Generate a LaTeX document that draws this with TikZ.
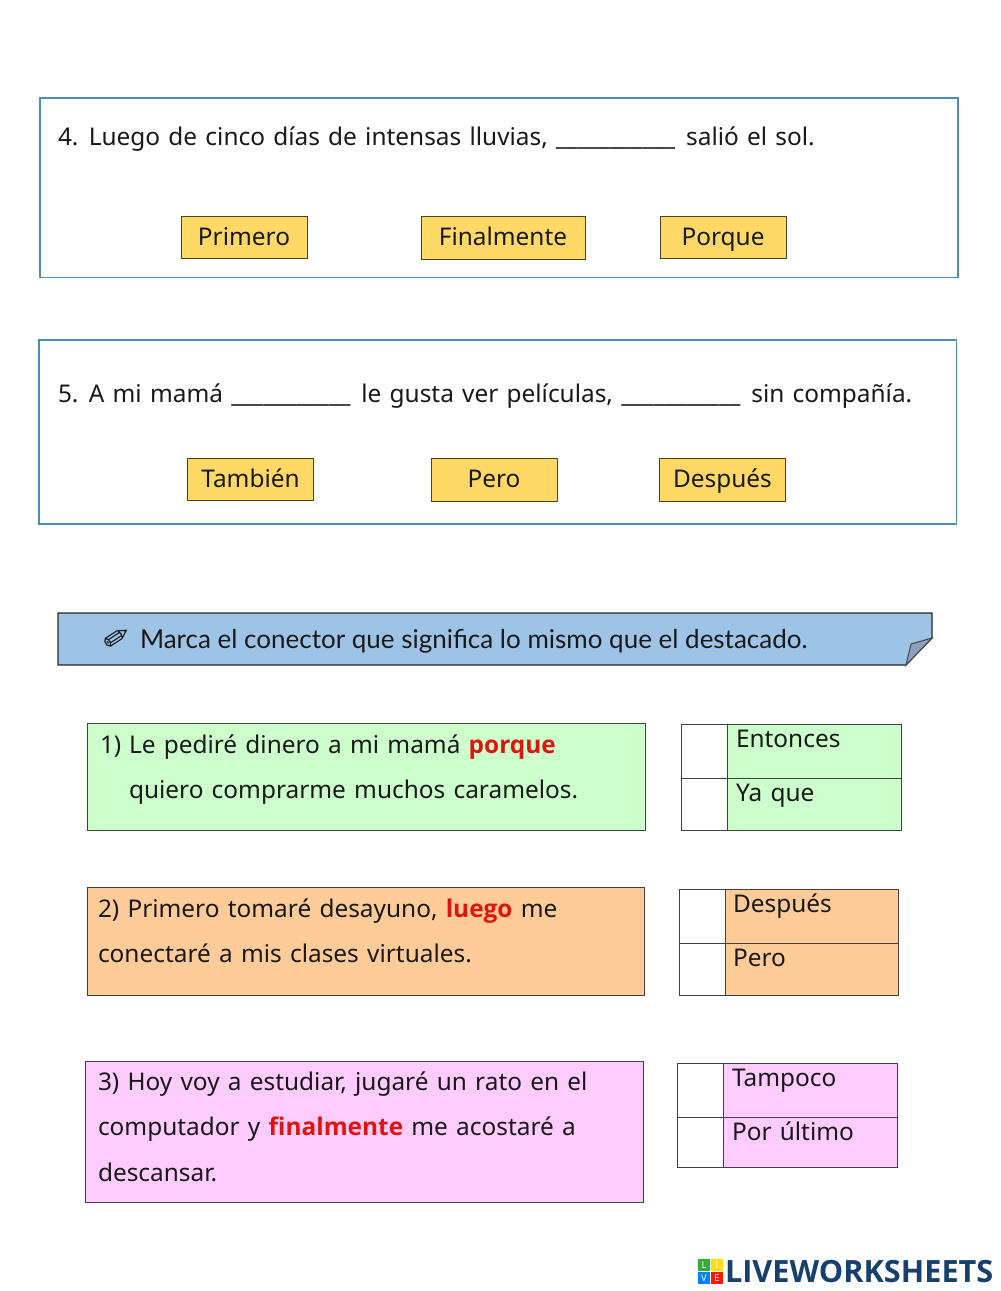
\documentclass[tikz,border=0pt]{standalone}
\usepackage{fontspec}
\usepackage{tikz}
\usetikzlibrary{positioning}
\setmainfont{Noto Sans}[WordSpace=1.3]
\newfontfamily\bannerfont{Lato}
\newfontfamily\logofont{Open Sans}
\newfontfamily\iconfont{DejaVu Sans}
\definecolor{framecol}{HTML}{4F8AB8}
\definecolor{btncol}{HTML}{FFD966}
\definecolor{bannercol}{HTML}{9DC3E6}
\definecolor{foldcol}{HTML}{8AA0BC}
\definecolor{greencol}{HTML}{CCFFCC}
\definecolor{orangecol}{HTML}{FFCC99}
\definecolor{pinkcol}{HTML}{FFCCFF}
\definecolor{conred}{HTML}{E0140F}
\definecolor{logocol}{HTML}{17406D}
\newcommand{\destacado}[1]{\textcolor{conred}{\logofont\bfseries #1}}
\newcommand{\blank}{\_\_\_\_\_\_\_\_\_\_\_\kern2pt}

\begin{document}
\begin{tikzpicture}[x=0.75pt, y=-0.75pt,
    every node/.style={font=\fontsize{18.3}{22}\selectfont, text=black!90, outer sep=0pt},
    frame/.style={draw=framecol, line width=0.8pt, fill=white, anchor=north west, inner sep=0pt},
    btn/.style={draw=black!70!btncol, line width=0.6pt, fill=btncol, minimum height=32pt, text height=14pt, text depth=2.5pt, inner sep=0pt},
    txt/.style={anchor=base west, inner sep=0pt},
    box/.style={draw=black!75, line width=0.6pt, anchor=north west, inner sep=0pt},
    tick/.style={box, fill=white, minimum width=34.5pt, minimum height=40.5pt},
    ans/.style={box, minimum width=130.5pt, minimum height=40.5pt},
    tile/.style={anchor=north west, inner sep=0pt, minimum size=9pt, text=white, font=\fontsize{7}{8}\bfseries\selectfont}]

   \useasboundingbox (0,0) rectangle (1000,1291);

   % question 4
   \node[frame, minimum width=688.5pt, minimum height=134.3pt] (frameA) at (40,98) {};
   \node[txt] (qA) at (58,146) {4. Luego de cinco días de intensas lluvias, \blank{} salió el sol.};
   \node[btn, minimum width=94.5pt] (primero) at (244,237.5) {Primero};
   \node[btn, minimum width=123pt] (finalmente) at (503,238) {Finalmente};
   \node[btn, minimum width=94.5pt] (porque) at (723,237.5) {Porque};

   % question 5
   \node[frame, minimum width=688pt, minimum height=138pt] (frameB) at (39,340) {};
   \node[txt] (qB) at (58,402) {5. A mi mamá \blank{} le gusta ver películas, \blank{} sin compañía.};
   \node[btn, minimum width=94pt] (tambien) at (250.5,479.5) {También};
   \node[btn, minimum width=94.5pt] (pero) at (494,480) {Pero};
   \node[btn, minimum width=94pt] (despues) at (722.5,480) {Después};

   % banner with the folded corner
   \draw[black!85, line width=1pt, fill=bannercol] (58,613) -- (932,613) -- (932,638) -- (906,665) -- (58,665) -- cycle;
   \draw[black!70, line width=0.8pt, fill=foldcol] (932,638) -- (911,644) -- (906,665) -- cycle;
   \node[font=\iconfont\fontsize{24}{26}\selectfont, rotate=-12, inner sep=0pt] (pencil) at (116,639) {\char"2710};
   \node[txt, font=\bannerfont\fontsize{19.5}{22}\selectfont] (marca) at (140,648) {Marca el conector que significa lo mismo que el destacado.};

   % 1)
   \node[box, fill=greencol, minimum width=418.5pt, minimum height=80.4pt] (uno) at (87,723) {};
   \node[txt] (unoA) at (100,753) {1)};
   \node[txt] (unoB) at (129,753) {Le pediré dinero a mi mamá \destacado{porque}};
   \node[txt] (unoC) at (129,798) {quiero comprarme muchos caramelos.};
   \node[tick] (unoT) at (681,724) {};
   \node[tick, below=0pt of unoT, minimum height=39pt] (unoU) {};
   \node[ans, fill=greencol, right=0pt of unoT] (entonces) {};
   \node[ans, fill=greencol, right=0pt of unoU, minimum height=39pt] (yaque) {};
   \node[txt] at (736,747) {Entonces};
   \node[txt] at (736,801) {Ya que};

   % 2)
   \node[box, fill=orangecol, minimum width=417.8pt, minimum height=81pt] (dos) at (87,887) {};
   \node[txt] (dosA) at (98,917) {2) Primero tomaré desayuno, \destacado{luego} me};
   \node[txt] (dosB) at (98,962) {conectaré a mis clases virtuales.};
   \node[tick] (dosT) at (679,889) {};
   \node[tick, below=0pt of dosT, minimum height=39pt] (dosU) {};
   \node[ans, fill=orangecol, right=0pt of dosT, minimum width=130pt] (despuesB) {};
   \node[ans, fill=orangecol, right=0pt of dosU, minimum width=130pt, minimum height=39pt] (peroB) {};
   \node[txt] at (733,912) {Después};
   \node[txt] at (733,966) {Pero};

   % 3)
   \node[box, fill=pinkcol, minimum width=418.5pt, minimum height=106pt] (tres) at (85,1061) {};
   \node[txt] (tresA) at (98,1090) {3) Hoy voy a estudiar, jugaré un rato en el};
   \node[txt] (tresB) at (98,1135) {computador y \destacado{finalmente} me acostaré a};
   \node[txt] (tresC) at (98,1181) {descansar.};
   \node[tick] (tresT) at (677,1063) {};
   \node[tick, below=0pt of tresT, minimum height=37.5pt] (tresU) {};
   \node[ans, fill=pinkcol, right=0pt of tresT] (tampoco) {};
   \node[ans, fill=pinkcol, right=0pt of tresU, minimum height=37.5pt] (ultimo) {};
   \node[txt] at (732,1086) {Tampoco};
   \node[txt] at (732,1140) {Por último};

   % logo
   \node[tile, fill=green!60!black!80] (tileL) at (698,1259) {L};
   \node[tile, fill=yellow!80!orange, right=0.8pt of tileL] (tileI) {I};
   \node[tile, fill=blue!50!cyan, below=0.8pt of tileL] (tileV) {V};
   \node[tile, fill=red!80!orange, right=0.8pt of tileV] (tileE) {E};
   \node[txt, text=logocol, font=\logofont\bfseries\fontsize{23}{24}\selectfont] (logo) at (725,1282) {LIVEWORKSHEETS};
\end{tikzpicture}
\end{document}
